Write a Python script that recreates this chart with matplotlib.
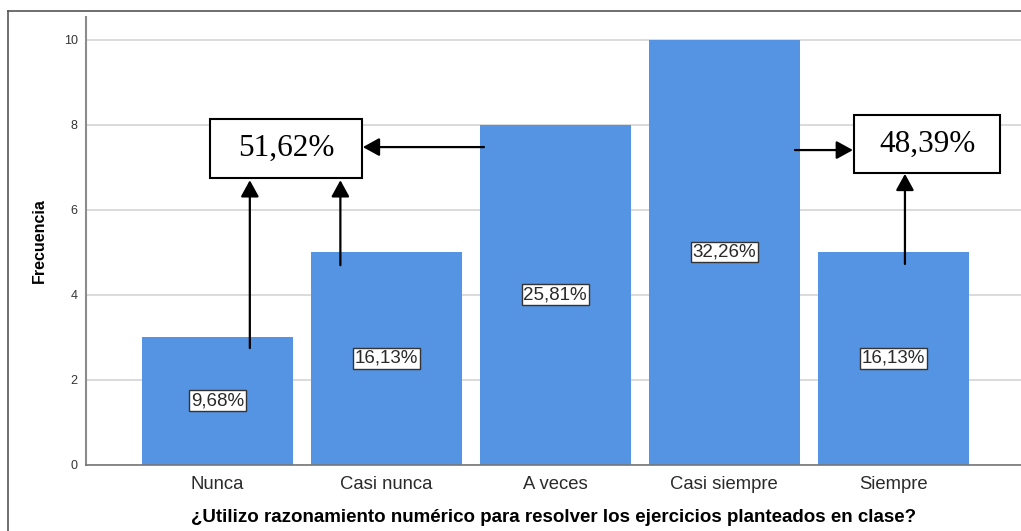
import numpy as np
import matplotlib.pyplot as plt
from matplotlib.patches import Rectangle
from matplotlib.lines import Line2D

categories = ['Nunca', 'Casi nunca', 'A veces', 'Casi siempre', 'Siempre']
frecuencia = [3, 5, 8, 10, 5]
porcentajes = ['9,68%', '16,13%', '25,81%', '32,26%', '16,13%']
yticks = [0, 2, 4, 6, 8, 10]

bar_color = '#5594e2'

plt.rcParams['font.family'] = ['Liberation Sans', 'DejaVu Sans']

fig = plt.figure(figsize=(10.21, 5.31), dpi=100)
ax = fig.add_axes([0.0842, 0.1252, 0.9158, 0.8427])

x = np.arange(len(categories))
ax.bar(x, frecuencia, width=0.894, color=bar_color, zorder=2)

# etiquetas de porcentaje dentro de las barras
for xi, f, p in zip(x, frecuencia, porcentajes):
    ax.text(xi, f / 2, p, ha='center', va='center', fontsize=13.5, color='#2a2a2a', zorder=4,
            bbox=dict(boxstyle='square,pad=0.1', fc='white', ec='#333333', lw=1))

ax.set_xlim(-0.778, 4.757)
ax.set_ylim(0, 10.53)
ax.set_yticks(yticks)
ax.set_xticks(x)
ax.set_xticklabels(categories, fontsize=13.3, color='#2a2a2a')
ax.tick_params(axis='y', length=0, labelsize=9, pad=6, labelcolor='#333333')
ax.tick_params(axis='x', length=0, pad=8)
ax.yaxis.grid(True, color='#d4d4d4', lw=1.2, zorder=0)
ax.set_axisbelow(True)

for s in ['top', 'right']:
    ax.spines[s].set_visible(False)
ax.spines['left'].set_color('#8c8c8c')
ax.spines['left'].set_linewidth(1.5)
ax.spines['bottom'].set_color('#777777')
ax.spines['bottom'].set_linewidth(1.2)

ax.set_ylabel('Frecuencia', fontsize=11.5, fontweight='bold', labelpad=12)
ax.set_xlabel('¿Utilizo razonamiento numérico para resolver los ejercicios planteados en clase?',
              fontsize=13.5, fontweight='bold', labelpad=12)

# cuadros de porcentaje acumulado
boxes = [(-0.044, 6.74, 0.90, 1.39, '51,62%'), (3.769, 6.86, 0.864, 1.36, '48,39%')]
for bx, by, bw, bh, t in boxes:
    ax.add_patch(Rectangle((bx, by), bw, bh, fc='white', ec='black', lw=1.5, zorder=5))
    ax.text(bx + bw / 2, by + bh / 2, t, ha='center', va='center', fontsize=22.5,
            family='Liberation Serif', zorder=6)

arrows = [
    ((0.192, 2.74), (0.192, 6.69)),
    ((0.728, 4.69), (0.728, 6.69)),
    ((1.578, 7.47), (0.861, 7.47)),
    ((3.419, 7.40), (3.762, 7.40)),
    ((4.07, 4.72), (4.07, 6.84)),
]
for start, end in arrows:
    ax.annotate('', xy=end, xytext=start, zorder=6,
                arrowprops=dict(arrowstyle='-|>,head_length=1.0,head_width=0.55', color='black',
                                lw=1.6, shrinkA=0, shrinkB=0, mutation_scale=10))

# marco exterior
fig.add_artist(Line2D([8 / 1021, 8 / 1021], [0, 1 - 11 / 531], color='#555555', lw=1.2))
fig.add_artist(Line2D([8 / 1021, 1], [1 - 11 / 531, 1 - 11 / 531], color='#555555', lw=1.2))

fig.savefig('out.png', dpi=100)
